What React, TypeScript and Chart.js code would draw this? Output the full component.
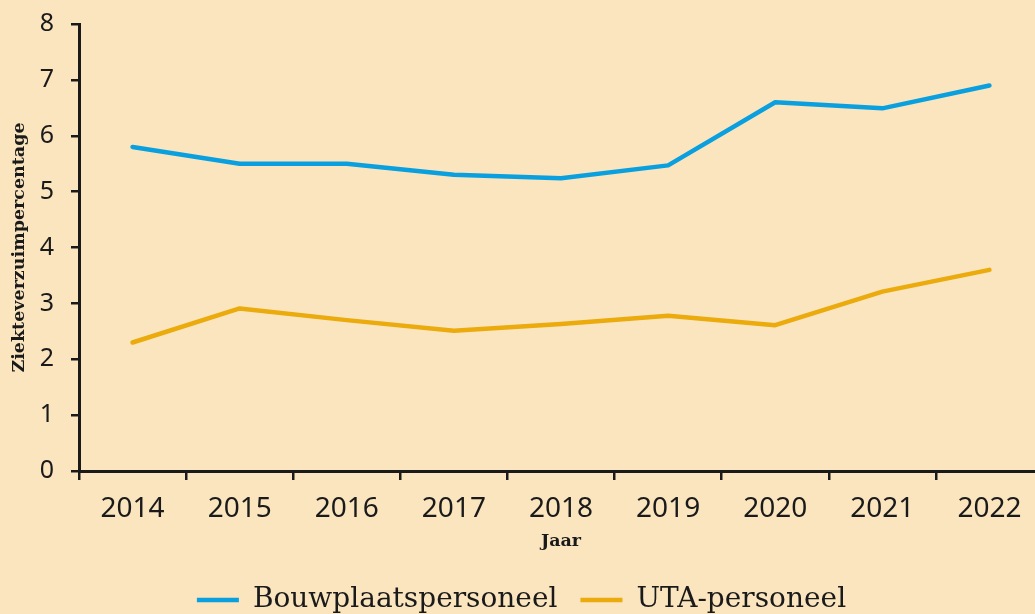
import React, { useEffect, useRef } from "react";
import { Chart, registerables } from "chart.js";

Chart.register(...registerables);

const years = ["2014", "2015", "2016", "2017", "2018", "2019", "2020", "2021", "2022"];
const bouwplaatspersoneel = [5.8, 5.5, 5.5, 5.3, 5.24, 5.47, 6.6, 6.49, 6.9];
const utaPersoneel = [2.3, 2.91, 2.7, 2.51, 2.63, 2.78, 2.61, 3.21, 3.6];
const yTicks = [0, 1, 2, 3, 4, 5, 6, 7, 8];

const BG = "#FAE5BF";
const INK = "#1a1a1a";

export default function App() {
  const ref = useRef<HTMLCanvasElement | null>(null);

  useEffect(() => {
    if (!ref.current) return;
    document.body.style.margin = "0";
    document.body.style.background = BG;
    const chart = new Chart(ref.current, {
      type: "line",
      data: {
        labels: years,
        datasets: [
          {
            label: "Bouwplaatspersoneel",
            data: bouwplaatspersoneel,
            borderColor: "#0AA0DF",
            backgroundColor: "#0AA0DF",
            borderWidth: 4.5,
            pointRadius: 0,
            tension: 0,
            borderCapStyle: "round",
            borderJoinStyle: "round",
          },
          {
            label: "UTA-personeel",
            data: utaPersoneel,
            borderColor: "#EBAB0C",
            backgroundColor: "#EBAB0C",
            borderWidth: 4.5,
            pointRadius: 0,
            tension: 0,
            borderCapStyle: "round",
            borderJoinStyle: "round",
          },
        ],
      },
      options: {
        animation: false,
        responsive: false,
        maintainAspectRatio: false,
        layout: { padding: { top: 24, right: 22, left: 0, bottom: -10 } },
        plugins: {
          tooltip: { enabled: false },
          legend: {
            position: "bottom",
            labels: {
              usePointStyle: true,
              pointStyle: "line",
              pointStyleWidth: 42,
              boxHeight: 4,
              padding: 23,
              color: INK,
              font: { family: "DejaVu Serif", size: 28 },
            },
          },
        },
        scales: {
          x: {
            type: "category",
            offset: true,
            afterFit: (s: any) => {
              s.height = 92;
              s.paddingLeft = 0;
              s.paddingRight = 0;
            },
            grid: {
              offset: true,
              drawOnChartArea: false,
              drawTicks: true,
              tickLength: 9,
              color: INK,
              lineWidth: 2.5,
            },
            border: { color: INK, width: 3 },
            ticks: {
              color: INK,
              padding: 12,
              font: { family: "Noto Sans", size: 28 },
              maxRotation: 0,
            },
            title: {
              display: true,
              text: "Jaar",
              color: INK,
              padding: { top: 0, bottom: 11 },
              font: { family: "DejaVu Serif", size: 17.5, weight: "bold" },
            },
          },
          y: {
            min: 0,
            max: 8,
            afterFit: (s: any) => {
              s.width = 79;
              s.paddingTop = 0;
              s.paddingBottom = 0;
            },
            afterBuildTicks: (s: any) => {
              s.ticks = yTicks.map((v) => ({ value: v }));
            },
            grid: {
              drawOnChartArea: false,
              drawTicks: true,
              tickLength: 8,
              color: INK,
              lineWidth: 2.5,
            },
            border: { color: INK, width: 3 },
            ticks: {
              color: INK,
              padding: 17,
              font: { family: "Noto Sans", size: 25 },
            },
            title: {
              display: true,
              text: "Ziekteverzuimpercentage",
              color: INK,
              padding: { top: 9, bottom: 0 },
              font: { family: "DejaVu Serif", size: 17.5, weight: "bold" },
            },
          },
        },
      },
    });
    return () => chart.destroy();
  }, []);

  return (
    <div
      style={{
        position: "fixed",
        left: 0,
        top: 0,
        width: 1035,
        height: 614,
        overflow: "hidden",
        background: BG,
      }}
    >
      <canvas ref={ref} width={1065} height={614} style={{ display: "block", width: 1065, height: 614 }} />
    </div>
  );
}
